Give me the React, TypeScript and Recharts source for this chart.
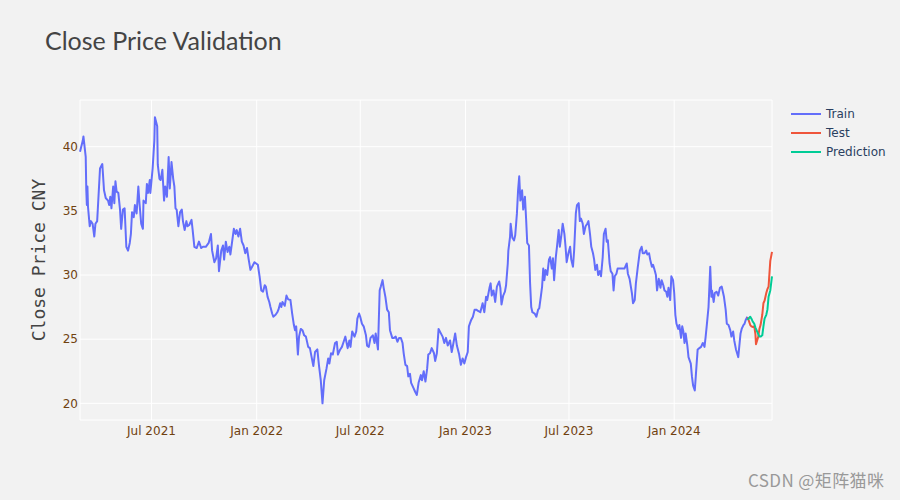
import React from 'react';
import { LineChart, Line, XAxis, YAxis, CartesianGrid } from 'recharts';

const trainDates = [
  '2021-02-26','2021-03-03','2021-03-04','2021-03-08','2021-03-09','2021-03-10','2021-03-11','2021-03-12','2021-03-15','2021-03-17',
  '2021-03-20','2021-03-23','2021-03-25','2021-03-28','2021-04-02','2021-04-06','2021-04-09','2021-04-12','2021-04-16','2021-04-18',
  '2021-04-20','2021-04-22','2021-04-25','2021-04-27','2021-04-29','2021-05-01','2021-05-04','2021-05-07','2021-05-09','2021-05-12',
  '2021-05-15','2021-05-18','2021-05-21','2021-05-24','2021-05-26','2021-05-28','2021-05-31','2021-06-02','2021-06-05','2021-06-08',
  '2021-06-10','2021-06-13','2021-06-16','2021-06-17','2021-06-21','2021-06-23','2021-06-25','2021-06-28','2021-06-29','2021-07-03',
  '2021-07-06','2021-07-07','2021-07-11','2021-07-12','2021-07-15','2021-07-17','2021-07-20','2021-07-23','2021-07-25','2021-07-28',
  '2021-07-31','2021-08-02','2021-08-05','2021-08-08','2021-08-10','2021-08-12','2021-08-14','2021-08-17','2021-08-20','2021-08-23',
  '2021-08-25','2021-08-28','2021-08-31','2021-09-02','2021-09-05','2021-09-09','2021-09-11','2021-09-14','2021-09-18','2021-09-22',
  '2021-09-26','2021-09-29','2021-10-04','2021-10-09','2021-10-13','2021-10-15','2021-10-19','2021-10-22','2021-10-25','2021-10-27',
  '2021-10-31','2021-11-03','2021-11-05','2021-11-08','2021-11-11','2021-11-14','2021-11-16','2021-11-19','2021-11-22','2021-11-25',
  '2021-11-27','2021-11-30','2021-12-03','2021-12-06','2021-12-09','2021-12-12','2021-12-15','2021-12-18','2021-12-21','2021-12-24',
  '2021-12-28','2021-12-31','2022-01-03','2022-01-06','2022-01-09','2022-01-12','2022-01-15','2022-01-17','2022-01-20','2022-01-23',
  '2022-01-25','2022-01-28','2022-01-30','2022-02-03','2022-02-06','2022-02-08','2022-02-11','2022-02-13','2022-02-15','2022-02-19',
  '2022-02-22','2022-02-25','2022-03-01','2022-03-04','2022-03-07','2022-03-09','2022-03-11','2022-03-14','2022-03-16','2022-03-19',
  '2022-03-22','2022-03-25','2022-03-28','2022-04-01','2022-04-04','2022-04-07','2022-04-10','2022-04-13','2022-04-17','2022-04-20',
  '2022-04-23','2022-04-26','2022-04-29','2022-05-03','2022-05-06','2022-05-08','2022-05-11','2022-05-14','2022-05-18','2022-05-21',
  '2022-05-23','2022-05-27','2022-05-30','2022-06-02','2022-06-05','2022-06-09','2022-06-12','2022-06-14','2022-06-17','2022-06-21',
  '2022-06-24','2022-06-26','2022-06-29','2022-07-01','2022-07-04','2022-07-07','2022-07-11','2022-07-13','2022-07-16','2022-07-19',
  '2022-07-23','2022-07-26','2022-07-28','2022-08-01','2022-08-04','2022-08-06','2022-08-09','2022-08-11','2022-08-14','2022-08-17',
  '2022-08-20','2022-08-22','2022-08-26','2022-08-29','2022-09-01','2022-09-04','2022-09-07','2022-09-10','2022-09-13','2022-09-15',
  '2022-09-18','2022-09-21','2022-09-23','2022-09-26','2022-09-28','2022-10-02','2022-10-05','2022-10-08','2022-10-11','2022-10-15',
  '2022-10-17','2022-10-20','2022-10-23','2022-10-26','2022-10-28','2022-10-31','2022-11-03','2022-11-07','2022-11-09','2022-11-12',
  '2022-11-15','2022-11-19','2022-11-22','2022-11-25','2022-11-28','2022-12-01','2022-12-05','2022-12-08','2022-12-11','2022-12-14',
  '2022-12-17','2022-12-21','2022-12-24','2022-12-27','2022-12-30','2023-01-02','2023-01-05','2023-01-07','2023-01-11','2023-01-14',
  '2023-01-17','2023-01-20','2023-01-23','2023-01-27','2023-01-31','2023-02-03','2023-02-06','2023-02-08','2023-02-12','2023-02-14',
  '2023-02-16','2023-02-19','2023-02-22','2023-02-25','2023-03-01','2023-03-03','2023-03-05','2023-03-08','2023-03-11','2023-03-13',
  '2023-03-16','2023-03-17','2023-03-20','2023-03-21','2023-03-24','2023-03-27','2023-03-29','2023-04-01','2023-04-03','2023-04-05',
  '2023-04-07','2023-04-10','2023-04-12','2023-04-15','2023-04-17','2023-04-19','2023-04-22','2023-04-24','2023-04-26','2023-04-28',
  '2023-05-02','2023-05-05','2023-05-08','2023-05-10','2023-05-13','2023-05-15','2023-05-17','2023-05-19','2023-05-21','2023-05-24',
  '2023-05-27','2023-05-29','2023-06-01','2023-06-03','2023-06-05','2023-06-08','2023-06-10','2023-06-13','2023-06-15','2023-06-18',
  '2023-06-20','2023-06-23','2023-06-25','2023-06-27','2023-06-30','2023-07-03','2023-07-05','2023-07-08','2023-07-10','2023-07-13',
  '2023-07-15','2023-07-18','2023-07-20','2023-07-22','2023-07-25','2023-07-27','2023-07-30','2023-08-02','2023-08-04','2023-08-07',
  '2023-08-09','2023-08-12','2023-08-14','2023-08-16','2023-08-19','2023-08-21','2023-08-24','2023-08-26','2023-08-29','2023-08-31',
  '2023-09-03','2023-09-05','2023-09-07','2023-09-10','2023-09-12','2023-09-15','2023-09-17','2023-09-19','2023-09-22','2023-09-24',
  '2023-09-28','2023-10-02','2023-10-06','2023-10-10','2023-10-12','2023-10-15','2023-10-19','2023-10-21','2023-10-24','2023-10-26',
  '2023-10-29','2023-10-31','2023-11-02','2023-11-05','2023-11-07','2023-11-10','2023-11-13','2023-11-15','2023-11-18','2023-11-20',
  '2023-11-23','2023-11-25','2023-11-27','2023-11-30','2023-12-02','2023-12-05','2023-12-08','2023-12-10','2023-12-13','2023-12-15',
  '2023-12-18','2023-12-20','2023-12-22','2023-12-25','2023-12-27','2023-12-30','2024-01-01','2024-01-03','2024-01-05','2024-01-08',
  '2024-01-10','2024-01-13','2024-01-15','2024-01-17','2024-01-19','2024-01-21','2024-01-24','2024-01-26','2024-01-30','2024-02-01',
  '2024-02-03','2024-02-06','2024-02-08','2024-02-11','2024-02-14','2024-02-17','2024-02-20','2024-02-23','2024-02-25','2024-02-27',
  '2024-03-01','2024-03-04','2024-03-06','2024-03-07','2024-03-10','2024-03-12','2024-03-15','2024-03-18','2024-03-21','2024-03-24',
  '2024-03-28','2024-03-31','2024-04-02','2024-04-05','2024-04-08','2024-04-10','2024-04-13','2024-04-15','2024-04-18','2024-04-20',
  '2024-04-22','2024-04-26','2024-04-28','2024-05-01','2024-05-03','2024-05-05','2024-05-08',
];

const trainValues = [
  39.6, 40.5, 40.8, 39.2, 36.6, 35.45, 36.9, 35.3, 33.8, 34.2,
  34.0, 33.0, 34.0, 34.2, 38.3, 38.65, 36.6, 36.0, 35.8, 35.45,
  36.1, 35.2, 36.9, 35.6, 37.3, 36.5, 36.4, 35.1, 33.6, 35.1,
  35.2, 32.2, 31.9, 32.5, 33.2, 34.9, 34.5, 35.45, 34.8, 36.9,
  35.6, 34.0, 33.6, 35.8, 35.6, 37.1, 36.4, 37.4, 36.4, 38.3,
  40.5, 42.3, 41.6, 38.6, 37.5, 37.4, 38.2, 35.8, 36.9, 36.1,
  39.2, 36.75, 38.8, 37.5, 36.9, 35.2, 35.1, 33.8, 34.9, 35.1,
  34.2, 33.5, 34.2, 33.8, 33.9, 34.3, 33.5, 32.2, 32.1, 32.6,
  32.1, 32.2, 32.2, 32.5, 33.2, 31.9, 31.0, 31.3, 32.3, 30.3,
  31.9, 32.3, 31.2, 32.6, 31.8, 32.2, 31.6, 32.6, 33.6, 33.2,
  33.5, 33.0, 33.6, 32.6, 32.3, 31.7, 32.1, 31.2, 30.4, 30.65,
  31.0, 30.9, 30.8, 29.9, 28.8, 28.7, 29.2, 29.1, 28.3, 27.9,
  27.5, 27.0, 26.75, 26.9, 27.1, 27.3, 27.8, 27.5, 27.9, 27.6,
  28.4, 28.1, 28.05, 27.0, 26.1, 25.7, 26.0, 23.8, 25.2, 25.8,
  25.7, 25.3, 25.2, 24.4, 24.3, 23.6, 22.9, 24.0, 24.2, 22.9,
  21.8, 20.0, 21.8, 22.7, 23.5, 23.1, 23.9, 23.8, 24.7, 24.8,
  23.8, 24.2, 24.4, 24.8, 25.2, 24.3, 24.9, 24.4, 25.6, 25.2,
  25.6, 26.6, 27.0, 26.75, 26.2, 26.0, 25.3, 24.5, 24.4, 25.1,
  25.3, 24.7, 25.45, 24.2, 28.8, 29.1, 29.6, 29.0, 28.3, 27.3,
  27.1, 25.7, 25.1, 25.1, 25.2, 24.8, 25.1, 25.1, 24.7, 23.9,
  23.0, 22.9, 22.1, 22.3, 21.6, 21.2, 20.9, 20.65, 21.6, 22.2,
  21.8, 22.5, 21.7, 22.7, 23.8, 23.9, 24.3, 23.9, 23.3, 23.9,
  25.8, 25.45, 25.2, 24.7, 25.1, 24.5, 24.9, 24.0, 24.7, 25.45,
  24.5, 23.8, 23.0, 23.5, 23.1, 23.6, 24.0, 26.0, 26.5, 26.75,
  27.3, 27.3, 27.2, 27.1, 27.8, 27.1, 28.3, 28.05, 29.0, 29.35,
  28.4, 28.8, 27.9, 29.1, 29.5, 29.0, 27.7, 28.4, 28.7, 29.2,
  30.9, 31.9, 33.0, 34.0, 32.9, 32.7, 33.1, 34.8, 36.6, 37.7,
  35.8, 36.6, 35.1, 36.1, 34.4, 32.5, 32.3, 29.35, 27.5, 27.1,
  27.0, 26.75, 27.3, 27.4, 28.4, 29.1, 30.5, 29.6, 30.4, 30.0,
  31.2, 31.4, 30.5, 31.3, 29.6, 31.4, 32.2, 33.5, 32.2, 33.2,
  34.0, 33.2, 32.2, 31.0, 31.7, 32.2, 31.2, 30.65, 31.9, 34.8,
  35.45, 35.6, 34.2, 34.4, 34.0, 33.2, 33.8, 34.0, 34.2, 33.1,
  32.2, 31.7, 31.2, 30.4, 30.8, 30.0, 30.3, 29.9, 31.4, 33.2,
  33.6, 32.6, 32.7, 30.9, 30.3, 30.1, 28.8, 29.9, 30.1, 30.5,
  30.5, 30.5, 30.5, 30.9, 30.1, 29.7, 28.6, 27.8, 28.05, 29.35,
  30.5, 31.2, 31.9, 32.2, 31.7, 31.7, 31.9, 31.6, 31.7, 31.2,
  30.65, 30.8, 30.5, 30.0, 28.8, 29.7, 29.0, 29.6, 29.2, 28.8,
  28.7, 28.3, 29.0, 28.05, 29.9, 29.6, 28.6, 26.9, 26.2, 25.8,
  26.1, 25.1, 26.0, 25.6, 24.7, 25.45, 24.5, 23.6, 23.1, 22.1,
  21.4, 21.0, 22.3, 24.2, 24.3, 24.4, 24.7, 24.4, 25.2, 26.1,
  27.5, 30.65, 28.3, 28.8, 27.9, 28.6, 28.7, 28.4, 29.0, 29.1,
  28.3, 27.3, 26.2, 26.1, 25.7, 25.2, 25.6, 24.9, 24.2, 23.9,
  23.6, 25.45, 25.8, 26.1, 26.2, 26.5, 26.75,
];

const testDates = [
  '2024-05-08','2024-05-10','2024-05-13','2024-05-15','2024-05-17','2024-05-20','2024-05-22','2024-05-23','2024-05-27','2024-05-29',
  '2024-05-31','2024-06-03','2024-06-05','2024-06-07','2024-06-10','2024-06-12','2024-06-14','2024-06-17','2024-06-20',
];
const testValues = [
  26.7, 26.5, 26.1, 26.0, 25.95, 26.0, 25.4, 24.6, 25.2, 25.8,
  26.1, 26.9, 27.8, 28.0, 28.6, 28.9, 29.1, 31.1, 31.8,
];
const predValues = [
  26.5, 26.6, 26.75, 26.6, 26.4, 26.2, 25.9, 25.8, 25.4, 25.2,
  25.2, 25.3, 26.0, 26.6, 26.9, 27.3, 28.3, 28.8, 29.9,
];

const xTickDates = ['2021-07-01', '2022-01-01', '2022-07-01', '2023-01-01', '2023-07-01', '2024-01-01'];
const xTickLabels = ['Jul 2021', 'Jan 2022', 'Jul 2022', 'Jan 2023', 'Jul 2023', 'Jan 2024'];
const yTicks = [20, 25, 30, 35, 40];
const seriesNames = ['Train', 'Test', 'Prediction'];
const seriesColors = ['#636efa', '#EF553B', '#00cc96'];
const titleText = 'Close Price Validation';
const yTitleText = 'Close Price CNY';
const watermarkText = 'CSDN @矩阵猫咪';

const ts = (d: string) => Date.parse(d + 'T00:00:00Z');

const trainData = trainDates.map((d, i) => ({ t: ts(d), v: trainValues[i] }));
const testData = testDates.map((d, i) => ({ t: ts(d), v: testValues[i] }));
const predData = testDates.map((d, i) => ({ t: ts(d), v: predValues[i] }));
const seriesData = [trainData, testData, predData];

const xTicks = xTickDates.map(ts);
const xLabelMap: Record<number, string> = {};
xTicks.forEach((t, i) => { xLabelMap[t] = xTickLabels[i]; });

const BG = '#f2f2f2';
const TICK_COLOR = '#70410f';
const TICK_FONT = "'DejaVu Sans', Verdana, sans-serif";

export default function App() {
  return (
    <div style={{ position: 'absolute', left: 0, top: 0, width: 900, height: 500, background: BG, overflow: 'hidden' }}>
      <LineChart width={900} height={500} margin={{ top: 100, right: 128, bottom: 0, left: 0 }}>
        <CartesianGrid stroke="#ffffff" strokeWidth={1} />
        <XAxis
          dataKey="t"
          type="number"
          domain={['dataMin', 'dataMax']}
          ticks={xTicks}
          tickFormatter={(v: number) => xLabelMap[v] ?? ''}
          height={80}
          axisLine={false}
          tickLine={false}
          tickSize={4}
          tickMargin={2}
          allowDuplicatedCategory={false}
          tick={{ fill: TICK_COLOR, fontSize: 12, fontFamily: TICK_FONT }}
        />
        <YAxis
          type="number"
          domain={[18.7, 43.64]}
          allowDataOverflow
          ticks={yTicks}
          width={80}
          axisLine={false}
          tickLine={false}
          tickSize={0}
          tickMargin={2}
          tick={{ fill: TICK_COLOR, fontSize: 12, fontFamily: TICK_FONT }}
        />
        {seriesData.map((data, i) => (
          <Line
            key={seriesNames[i]}
            data={data}
            dataKey="v"
            name={seriesNames[i]}
            stroke={seriesColors[i]}
            strokeWidth={2}
            dot={false}
            activeDot={false}
            strokeLinejoin="round"
            isAnimationActive={false}
          />
        ))}
      </LineChart>
      <svg width={900} height={500} style={{ position: 'absolute', left: 0, top: 0, pointerEvents: 'none' }}>
        <text x={45} y={50} fontSize={25} fill="#444" fontFamily="Lato, 'Open Sans', sans-serif">{titleText}</text>
        <text transform="translate(45,260) rotate(-90)" textAnchor="middle" fontSize={18} fill="#444" fontFamily="'DejaVu Sans Mono', monospace">{yTitleText}</text>
        {seriesNames.map((n, i) => (
          <g key={n}>
            <line x1={791} x2={821} y1={114 + i * 19} y2={114 + i * 19} stroke={seriesColors[i]} strokeWidth={2} />
            <text x={826} y={118 + i * 19} fontSize={12} fill="#2a3f5f" fontFamily={TICK_FONT}>{n}</text>
          </g>
        ))}
        <text x={748} y={487} fontSize={17} fill="#999" fontFamily="'Noto Sans CJK SC', sans-serif" textLength={136} lengthAdjust="spacing">{watermarkText}</text>
      </svg>
    </div>
  );
}
